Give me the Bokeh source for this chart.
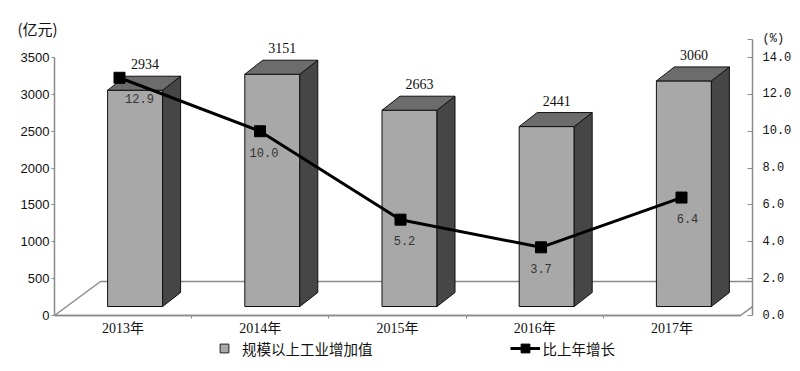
from bokeh.plotting import figure
from bokeh.models import (Range1d, LinearAxis, FixedTicker,
                          Legend, LegendItem, PolyAnnotation, Title)
from bokeh.core.properties import value
from bokeh.embed import file_html
from bokeh.resources import INLINE

# ---------------- data ----------------
years = ["2013年", "2014年", "2015年", "2016年", "2017年"]
industry_value = [2934, 3151, 2663, 2441, 3060]      # 亿元
growth_rate = [12.9, 10.0, 5.2, 3.7, 6.4]            # %
left_ticks = [0, 500, 1000, 1500, 2000, 2500, 3000, 3500]
right_ticks = [0, 2, 4, 6, 8, 10, 12, 14]
left_unit = "(亿元)"
right_unit = "(%)"
series_bar = "规模以上工业增加值"
series_line = "比上年增长"

# ---------------- layout / style ----------------
FRAME_TOP = 38
ZERO_Y = 315            # screen row of the value 0
FRAME_BOTTOM = 360      # frame reaches down to hold category labels + legend
FRAME_W, FRAME_H = 698, FRAME_BOTTOM - FRAME_TOP
PX_PER_CAT = 137.2
PX_PER_VAL = 258 / 3500
PCT_SCALE = 3500 / 14
UNIT_TICK = 15          # position (in % units) of the "(%)" caption on the right axis


def cx(px):
    return px / PX_PER_CAT


def cy(px):
    return px / PX_PER_VAL


FRONT_FACE = "#a8a8a8"
SIDE_FACE = "#464646"
TOP_FACE = "#6c6c6c"
AXIS_GRAY = "#8a8a8a"
SERIF = "Liberation Serif, Noto Sans CJK SC"
CJK = "Noto Sans CJK SC"

idx = list(range(len(years)))
x_end = -0.5 + cx(FRAME_W)
y_start = -cy(FRAME_BOTTOM - ZERO_Y)
y_end = cy(ZERO_Y - FRAME_TOP)

p = figure(frame_width=FRAME_W, frame_height=FRAME_H,
           x_range=Range1d(-0.5, x_end), y_range=Range1d(y_start, y_end),
           x_axis_type=None, y_axis_type=None,
           output_backend="svg", toolbar_location=None,
           min_border_left=54, min_border_top=FRAME_TOP, min_border_right=30,
           min_border_bottom=11)
p.outline_line_color = None
p.background_fill_color = "white"
p.border_fill_color = "white"

p.extra_y_ranges = {"pct": Range1d(y_start / PCT_SCALE, y_end / PCT_SCALE)}
# the growth line sits on a slightly wider perspective plane
lx_px0 = 65.0
lx_step = 140.5
p.extra_x_ranges = {"lx": Range1d(-lx_px0 / lx_step, (FRAME_W - lx_px0) / lx_step)}

# ---------------- 3D floor ----------------
fdx, fdy = cx(46), cy(34)
floor = PolyAnnotation(xs=[-0.5, 4.5, 4.5 + fdx, -0.5 + fdx], ys=[0, 0, fdy, fdy],
                       fill_alpha=0, line_color=AXIS_GRAY, line_alpha=1.0,
                       line_width=1.5, level="underlay")
p.add_layout(floor)

# ---------------- 3D bars ----------------
fx, fy = cx(12), cy(9)
bw = cx(55)
ddx, ddy = cx(18), cy(14)
lefts = [i + fx - bw / 2 for i in idx]
rights = [i + fx + bw / 2 for i in idx]
tops = [v + fy for v in industry_value]

p.quad(left=lefts, right=rights, bottom=[fy] * len(idx), top=tops,
       fill_color=FRONT_FACE, line_color="#111111", line_width=1)
p.patches(xs=[[r, r + ddx, r + ddx, r] for r in rights],
          ys=[[fy, fy + ddy, t + ddy, t] for t in tops],
          fill_color=SIDE_FACE, line_color="#111111", line_width=1)
p.patches(xs=[[l, r, r + ddx, l + ddx] for l, r in zip(lefts, rights)],
          ys=[[t, t, t + ddy, t + ddy] for t in tops],
          fill_color=TOP_FACE, line_color="#111111", line_width=1)

p.text(x=[i + fx + cx(10) for i in idx], y=[t + ddy for t in tops],
       text=[str(v) for v in industry_value], text_align="center",
       text_baseline="bottom", y_offset=-7, text_font=value("Liberation Serif"),
       text_font_size="14px", text_color="#111111")

# legend proxy for the bars (zero-size markers at the bar values)
bar_key = p.scatter(x=idx, y=industry_value, marker="square", size=0,
                    fill_color=FRONT_FACE, line_color="#222222")

# ---------------- growth line ----------------
line_r = p.line(x=idx, y=growth_rate, x_range_name="lx", y_range_name="pct",
                line_color="black", line_width=3)
mark_r = p.scatter(x=idx, y=growth_rate, x_range_name="lx", y_range_name="pct",
                   marker="square", size=11, fill_color="black", line_color="black")
pct_dx = [20, 4, 4, 0, 6]
p.text(x=idx, y=growth_rate, x_range_name="lx", y_range_name="pct",
       text=[f"{g:.1f}" for g in growth_rate], x_offset=pct_dx, y_offset=21,
       text_align="center", text_baseline="middle",
       text_font=value("Liberation Mono"), text_font_size="12px", text_color="#333333")

# ---------------- axes ----------------
# category axis: line + boundary ticks drawn at value 0; labels as category texts
xaxis = LinearAxis(ticker=FixedTicker(ticks=[], minor_ticks=[0.5, 1.5, 2.5, 3.5]),
                   bounds=(-0.5, 4.5), fixed_location=0)
xaxis.axis_line_color = AXIS_GRAY
xaxis.axis_line_width = 1.5
xaxis.major_tick_line_color = None
xaxis.major_tick_out = 0
xaxis.major_tick_in = 0
xaxis.minor_tick_line_color = AXIS_GRAY
xaxis.minor_tick_out = 3
xaxis.minor_tick_in = 0
p.add_layout(xaxis, "below")

p.text(x=idx, y=[0] * len(idx), text=years, text_align="center", text_baseline="top",
       y_offset=5, text_font=value(SERIF), text_font_size="14px", text_color="#111111")

yleft = LinearAxis(ticker=FixedTicker(ticks=left_ticks), bounds=(0, left_ticks[-1]))
yleft.axis_line_color = AXIS_GRAY
yleft.axis_line_width = 1.5
yleft.major_tick_line_color = AXIS_GRAY
yleft.major_tick_out = 3
yleft.major_tick_in = 0
yleft.minor_tick_line_color = None
yleft.major_label_standoff = 2
yleft.major_label_text_font = "Liberation Sans"
yleft.major_label_text_font_size = "13px"
yleft.major_label_text_color = "#111111"
p.add_layout(yleft, "left")

right_overrides = {t: f"{t:.1f}" for t in right_ticks}
right_overrides[UNIT_TICK] = right_unit
yright = LinearAxis(y_range_name="pct",
                    ticker=FixedTicker(ticks=right_ticks + [UNIT_TICK]),
                    bounds=(0, UNIT_TICK), major_label_overrides=right_overrides)
yright.axis_line_color = AXIS_GRAY
yright.axis_line_width = 1.5
yright.major_tick_line_color = AXIS_GRAY
yright.major_tick_out = 0
yright.major_tick_in = 5
yright.minor_tick_line_color = None
yright.major_label_standoff = 10
yright.major_label_text_font = "Liberation Mono, Noto Sans CJK SC"
yright.major_label_text_font_size = "12px"
yright.major_label_text_color = "#111111"
p.add_layout(yright, "right")

# ---------------- left unit caption ----------------
unit_title = Title(text=left_unit, align="left", offset=-37, standoff=0,
                   text_font=CJK, text_font_size="15px", text_font_style="normal",
                   text_color="#111111")
p.add_layout(unit_title, "above")

# ---------------- series legend ----------------
legend = Legend(items=[LegendItem(label=series_bar, renderers=[bar_key]),
                       LegendItem(label=series_line, renderers=[line_r, mark_r])],
                orientation="horizontal", location=(155, 1),
                glyph_width=30, glyph_height=22, label_standoff=3, spacing=137,
                padding=0, margin=0, border_line_color=None, background_fill_alpha=0,
                label_text_font=CJK, label_text_font_size="14.5px",
                label_text_color="#111111")
p.add_layout(legend, "center")

open("out.html", "w").write(file_html(p, INLINE))
